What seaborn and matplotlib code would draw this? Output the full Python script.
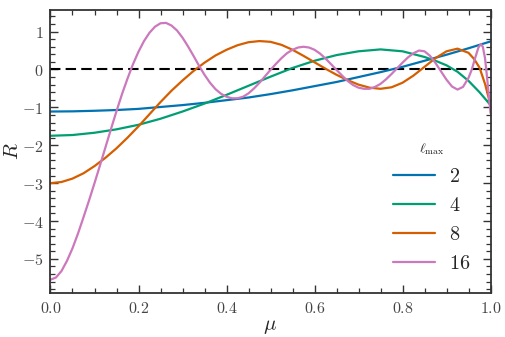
import matplotlib
matplotlib.use("Agg")
import matplotlib.pyplot as plt
import seaborn as sns
import pandas as pd
from matplotlib.ticker import MultipleLocator, FuncFormatter

# ---- data ----
mu_2 = [0.00, 0.05, 0.10, 0.15, 0.20, 0.25, 0.30, 0.35, 0.40, 0.45, 0.50,
        0.55, 0.60, 0.65, 0.70, 0.75, 0.80, 0.85, 0.90, 0.95, 1.00]
R_2 = [-1.11, -1.105, -1.09, -1.07, -1.04, -0.99, -0.94, -0.88, -0.81, -0.74, -0.65,
       -0.55, -0.44, -0.33, -0.20, -0.07, 0.07, 0.23, 0.39, 0.56, 0.74]

mu_4 = [0.00, 0.05, 0.10, 0.15, 0.20, 0.25, 0.30, 0.35, 0.40, 0.45, 0.50,
        0.55, 0.60, 0.65, 0.70, 0.75, 0.80, 0.85, 0.875, 0.90, 0.925, 0.95, 0.975, 1.00]
R_4 = [-1.75, -1.73, -1.67, -1.58, -1.46, -1.30, -1.11, -0.90, -0.67, -0.43, -0.19,
       0.04, 0.23, 0.38, 0.48, 0.53, 0.48, 0.33, 0.23, 0.11, -0.06, -0.30, -0.60, -0.94]

mu_8 = [0.000, 0.025, 0.050, 0.075, 0.100, 0.125, 0.150, 0.175, 0.200, 0.225, 0.250,
        0.275, 0.300, 0.325, 0.350, 0.375, 0.400, 0.425, 0.450, 0.475, 0.500, 0.525,
        0.550, 0.575, 0.600, 0.625, 0.650, 0.675, 0.700, 0.725, 0.750, 0.775, 0.800,
        0.825, 0.850, 0.875, 0.900, 0.925, 0.950, 0.9625, 0.975, 0.9875, 1.000]
R_8 = [-3.00, -2.97, -2.88, -2.74, -2.55, -2.33, -2.08, -1.80, -1.50, -1.18, -0.86,
       -0.56, -0.29, -0.04, 0.18, 0.37, 0.52, 0.64, 0.72, 0.75, 0.73, 0.65,
       0.52, 0.36, 0.19, 0.02, -0.14, -0.28, -0.40, -0.48, -0.51, -0.47, -0.35,
       -0.16, 0.07, 0.30, 0.48, 0.55, 0.44, 0.28, 0.05, -0.38, -0.93]

mu_16 = [0.0, 0.0125, 0.025, 0.0375, 0.05, 0.0625, 0.075, 0.0875, 0.1, 0.1125,
         0.125, 0.1375, 0.15, 0.1625, 0.175, 0.1875, 0.2, 0.2125, 0.225, 0.2375,
         0.25, 0.2625, 0.275, 0.2875, 0.3, 0.3125, 0.325, 0.3375, 0.35, 0.3625,
         0.375, 0.3875, 0.4, 0.4125, 0.425, 0.4375, 0.45, 0.4625, 0.475, 0.4875,
         0.5, 0.5125, 0.525, 0.5375, 0.55, 0.5625, 0.575, 0.5875, 0.6, 0.6125,
         0.625, 0.6375, 0.65, 0.6625, 0.675, 0.6875, 0.7, 0.7125, 0.725, 0.7375,
         0.75, 0.7625, 0.775, 0.7875, 0.8, 0.8125, 0.825, 0.8375, 0.85, 0.8625,
         0.875, 0.8875, 0.9, 0.9125, 0.925, 0.9375, 0.95, 0.9575, 0.965, 0.9725,
         0.978, 0.9825, 0.9875, 0.9925, 0.9975, 1.0]
R_16 = [-5.55, -5.49, -5.32, -5.05, -4.72, -4.33, -3.90, -3.46, -3.00, -2.53,
        -2.05, -1.57, -1.10, -0.65, -0.24, 0.14, 0.47, 0.75, 0.97, 1.13,
        1.22, 1.23, 1.16, 1.03, 0.84, 0.61, 0.36, 0.10, -0.14, -0.35,
        -0.52, -0.64, -0.72, -0.76, -0.76, -0.72, -0.63, -0.50, -0.35, -0.18,
        -0.01, 0.15, 0.30, 0.43, 0.52, 0.58, 0.60, 0.58, 0.52, 0.42,
        0.29, 0.14, -0.01, -0.16, -0.30, -0.41, -0.48, -0.51, -0.51, -0.46,
        -0.38, -0.26, -0.12, 0.03, 0.18, 0.32, 0.43, 0.50, 0.48, 0.36,
        0.17, -0.05, -0.27, -0.45, -0.53, -0.46, -0.22, 0.00, 0.30, 0.58,
        0.67, 0.60, 0.30, -0.25, -0.85, -1.15]

ell_labels = ["2", "4", "8", "16"]
colors = ["#0173b2", "#029e73", "#d55e00", "#cc78bc"]

frames = []
for lab, m, r in zip(ell_labels, [mu_2, mu_4, mu_8, mu_16], [R_2, R_4, R_8, R_16]):
    frames.append(pd.DataFrame({"mu": m, "R": r, "ell": lab}))
df = pd.concat(frames, ignore_index=True)

# ---- style ----
sns.set_style("ticks")
plt.rcParams["mathtext.fontset"] = "cm"
plt.rcParams["font.family"] = ["DejaVu Serif"]

fig = plt.figure(figsize=(5.06, 3.37), dpi=100)
ax = fig.add_axes([0.0998, 0.1306, 0.8696, 0.8397])

ax.axhline(0, color="black", lw=1.5, dashes=(5, 2.5), zorder=1)

sns.lineplot(data=df, x="mu", y="R", hue="ell", hue_order=ell_labels,
             palette=dict(zip(ell_labels, colors)), lw=1.6, ax=ax,
             sort=False, estimator=None, zorder=2)

ax.set_xlim(0, 1)
ax.set_ylim(-5.9, 1.57)

ax.xaxis.set_major_locator(MultipleLocator(0.2))
ax.xaxis.set_minor_locator(MultipleLocator(0.05))
ax.yaxis.set_major_locator(MultipleLocator(1))
ax.yaxis.set_minor_locator(MultipleLocator(0.2))

def fmt_x(v, pos):
    return r"$%.1f$" % v

def fmt_y(v, pos):
    return r"$%d$" % int(round(v))

ax.xaxis.set_major_formatter(FuncFormatter(fmt_x))
ax.yaxis.set_major_formatter(FuncFormatter(fmt_y))

ax.tick_params(which="both", direction="in", top=True, right=True,
               color="#333333", labelcolor="#444444", labelsize=11.5)
ax.tick_params(which="major", length=6, width=1.0, pad=5)
ax.tick_params(which="minor", length=3.5, width=0.9)
for s in ax.spines.values():
    s.set_linewidth(1.3)
    s.set_color("#333333")

ax.set_xlabel(r"$\mu$", fontsize=15, labelpad=0)
ax.set_ylabel(r"$R$", fontsize=15, labelpad=0)

handles, labels = ax.get_legend_handles_labels()
leg = ax.legend(handles, [r"$%s$" % l for l in labels], title=r"$\ell_{\rm max}$",
                loc="lower right", bbox_to_anchor=(0.996, 0.007), frameon=False,
                fontsize=14.5, title_fontsize=10, handlelength=2.1,
                labelspacing=0.5, handletextpad=0.7)
for ln in leg.get_lines():
    ln.set_linewidth(1.6)

fig.savefig("out.png", dpi=100)
